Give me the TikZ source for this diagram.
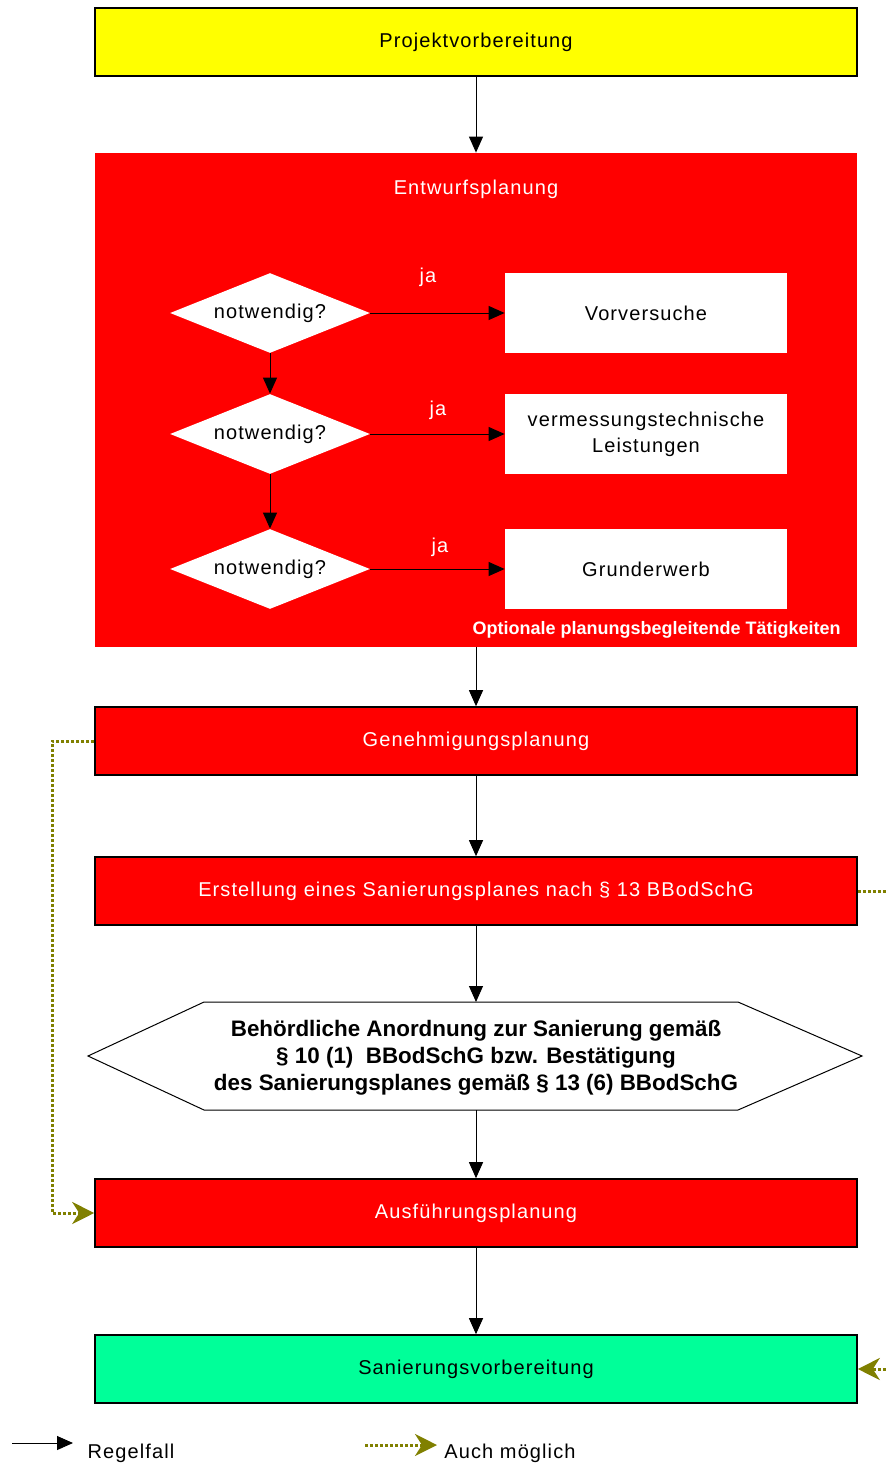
\documentclass[tikz,border=0pt]{standalone}
\usepackage{fontspec}
\setmainfont{Liberation Sans}
\newfontfamily\gesperrt[LetterSpace=5.5]{Liberation Sans}
\usetikzlibrary{shapes.geometric,arrows.meta}
\definecolor{Gelb}{RGB}{255,255,0}
\definecolor{Rot}{RGB}{255,0,0}
\definecolor{Gruen}{RGB}{0,255,153}
\definecolor{Oliv}{RGB}{128,128,0}
\tikzset{
  stufe/.style={draw=black,line width=0.8pt,minimum width=381pt,minimum height=34pt,inner sep=0pt,font=\gesperrt\fontsize{10}{12}\selectfont},
  rotstufe/.style={stufe,fill=Rot,text=white},
  frage/.style={diamond,aspect=2.5,fill=white,minimum width=100pt,minimum height=40pt,inner sep=0pt,font=\gesperrt\fontsize{10}{12}\selectfont},
  option/.style={fill=white,minimum width=141pt,minimum height=40pt,inner sep=0pt,align=center,font=\gesperrt\fontsize{10}{13}\selectfont},
  weiss/.style={text=white,inner sep=0pt,font=\gesperrt\fontsize{10}{12}\selectfont},
  legende/.style={inner sep=0pt,font=\gesperrt\fontsize{10}{12}\selectfont},
  pfeil/.style={line width=0.5pt,-{Triangle[length=8pt,width=7pt]}},
  auch/.style={Oliv,line width=1.5pt,dash pattern=on 1.5pt off 1pt,-{Stealth[length=11pt,width=11pt,inset=3.5pt]}}
}
\begin{document}
\begin{tikzpicture}[x=0.5pt,y=-0.5pt]
\useasboundingbox (0,0) rectangle (888,1467);
\node[stufe,fill=Gelb] (vorb) at (476,42) {Projektvorbereitung};
\node[fill=Rot,minimum width=381pt,minimum height=247pt,inner sep=0pt] (entwurf) at (476,400) {};
\node[weiss] (entwurftitel) at (476,189) {Entwurfsplanung};
\foreach \n/\y/\jx/\jy/\t in {1/313/428/277/Vorversuche,2/434/438/410/{vermessungstechnische\\Leistungen},3/569/440/547/Grunderwerb}{
  \node[frage] (frage\n) at (270,\y) {notwendig?};
  \node[option] (opt\n) at (646,\y) {\t};
  \node[weiss] (ja\n) at (\jx,\jy) {ja};
  \draw[pfeil] (frage\n.east) -- (opt\n.west);
}
\draw[pfeil] (frage1) -- (frage2);
\draw[pfeil] (frage2) -- (frage3);
\node[weiss,anchor=east,font=\bfseries\fontsize{9}{11}\selectfont] (optional) at (841,630) {Optionale planungsbegleitende Tätigkeiten};
\node[rotstufe] (genehm) at (476,741) {Genehmigungsplanung};
\node[rotstufe] (sanplan) at (476,891) {Erstellung eines Sanierungsplanes nach \S\ 13 BBodSchG};
\draw[line width=0.5pt,fill=white] (88,1056) -- (204,1002) -- (738,1002) -- (862,1056) -- (738,1110) -- (204,1110) -- cycle;
\node[inner sep=0pt,minimum width=387pt,minimum height=54pt,align=center,font=\bfseries\fontsize{11.2}{13.5}\selectfont] (anord) at (476,1058) {Behördliche Anordnung zur Sanierung gemäß\\\S\ 10 (1)\ \ BBodSchG bzw. Bestätigung\\des Sanierungsplanes gemäß \S\ 13 (6) BBodSchG};
\node[rotstufe] (ausf) at (476,1213) {Ausführungsplanung};
\node[stufe,fill=Gruen] (sanvorb) at (476,1369) {Sanierungsvorbereitung};
\draw[pfeil] (vorb) -- (entwurf);
\draw[pfeil] (entwurf) -- (genehm);
\draw[pfeil] (genehm) -- (sanplan);
\draw[pfeil] (sanplan) -- (anord.north |- 0,1002);
\draw[pfeil] (anord.south |- 0,1110) -- (ausf);
\draw[pfeil] (ausf) -- (sanvorb);
\draw[auch] (genehm.west) -- ++(-42,0) |- (ausf.west);
\draw[auch] (sanplan.east) -- ++(50,0) |- (sanvorb.east);
\coordinate (regel1) at (12,1443);
\coordinate (regel2) at (73,1443);
\draw[pfeil] (regel1) -- (regel2);
\node[legende] (regel) at (131,1453) {Regelfall};
\coordinate (moeglich1) at (365,1445);
\coordinate (moeglich2) at (437,1445);
\draw[auch] (moeglich1) -- (moeglich2);
\node[legende] (moeglich) at (510,1453) {Auch möglich};
\end{tikzpicture}
\end{document}
